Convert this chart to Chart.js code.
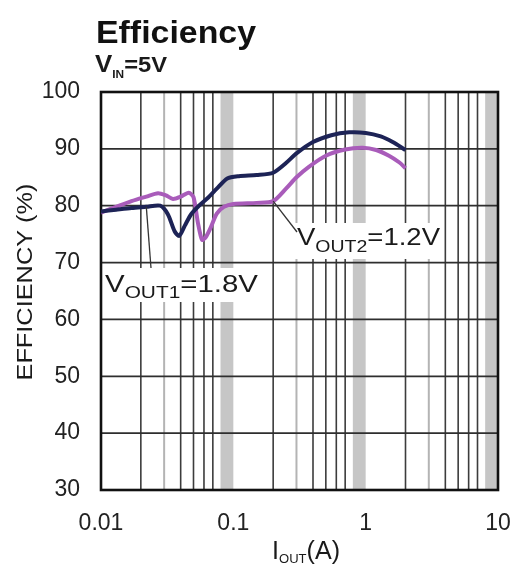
<!DOCTYPE html>
<html><head><meta charset="utf-8">
<script src="https://cdn.jsdelivr.net/npm/chart.js@4.4.1/dist/chart.umd.min.js"></script>
<style>html,body{margin:0;padding:0;background:#fff}</style>
</head><body>
<canvas id="c" width="515" height="567"></canvas>
<script>
// ---- data ----
const currents1 = [0.01,0.013,0.017,0.022,0.028,0.032,0.036,0.039,0.043,0.048,0.055,0.065,0.075,0.09,0.11,0.15,0.2,0.25,0.3,0.4,0.55,0.75,1.0,1.3,1.6,2.0];
const eff1      = [79.0,79.3,79.6,79.8,80.0,78.5,75.5,74.7,76.5,78.5,80.0,81.5,83.0,84.8,85.2,85.4,85.8,87.5,89.2,91.2,92.4,92.9,92.8,92.2,91.2,89.8];
const currents2 = [0.01,0.013,0.017,0.022,0.027,0.031,0.035,0.04,0.046,0.05,0.054,0.058,0.062,0.067,0.075,0.085,0.1,0.15,0.2,0.25,0.3,0.37,0.5,0.7,0.95,1.2,1.5,1.8,2.0];
const eff2      = [78.8,79.8,80.8,81.6,82.2,81.8,81.2,81.6,82.3,81.5,77.0,74.0,74.5,76.0,78.6,79.8,80.3,80.5,80.8,83.0,85.0,86.8,88.8,89.9,90.2,89.8,88.8,87.6,86.6];
const xTickValues = [0.01,0.1,1,10];
const xTickLabels = ['0.01','0.1','1','10'];
const yTickValues = [30,40,50,60,70,80,90,100];
const minorMantissas = [2,3,4,5,6,7];

const FONT = "'Liberation Sans', Arial, Helvetica, sans-serif";

function drawParts(ctx, parts, x, y, targetW, color){
  ctx.save();
  ctx.fillStyle = color || '#1a1a1a';
  ctx.textBaseline = 'alphabetic';
  ctx.textAlign = 'left';
  let w = 0;
  for (const p of parts){ ctx.font = p[1]; w += ctx.measureText(p[0]).width; }
  const sx = targetW ? targetW / w : 1;
  ctx.translate(x, y); ctx.scale(sx, 1);
  let cx = 0;
  for (const p of parts){ ctx.font = p[1]; ctx.fillText(p[0], cx, p[2] || 0); cx += ctx.measureText(p[0]).width; }
  ctx.restore();
}

const gridPlugin = {
  id: 'grid',
  beforeDatasetsDraw(chart){
    const {ctx, chartArea: a, scales: {x, y}} = chart;
    ctx.save();
    ctx.fillStyle = '#c6c6c6';
    for (const d of [0.1, 1, 10]){
      const x0 = x.getPixelForValue(d * 0.8), x1 = x.getPixelForValue(d);
      ctx.fillRect(x0, a.top, x1 - x0, a.bottom - a.top);
    }
    for (const d of [0.01, 0.1, 1]){
      for (const m of minorMantissas){
        const px = x.getPixelForValue(d * m);
        ctx.strokeStyle = m === 3 ? '#b4b4b4' : '#3c3c3c';
        ctx.lineWidth = m === 3 ? 2 : 1.6;
        ctx.beginPath(); ctx.moveTo(px, a.top); ctx.lineTo(px, a.bottom); ctx.stroke();
      }
    }
    ctx.strokeStyle = '#2e2e2e'; ctx.lineWidth = 1.8;
    for (const v of yTickValues){
      const py = y.getPixelForValue(v);
      ctx.beginPath(); ctx.moveTo(a.left, py); ctx.lineTo(a.right, py); ctx.stroke();
    }
    ctx.strokeStyle = '#111'; ctx.lineWidth = 2.6;
    ctx.strokeRect(a.left, a.top, a.right - a.left, a.bottom - a.top);
    ctx.restore();
  },
  afterDatasetsDraw(chart){
    const {ctx, scales: {x, y}} = chart;
    ctx.save();
    ctx.fillStyle = '#fff';
    ctx.fillRect(103, 268, 158, 34);
    ctx.fillRect(295, 223, 148, 36);
    ctx.strokeStyle = '#333'; ctx.lineWidth = 1.3;
    ctx.beginPath();
    ctx.moveTo(x.getPixelForValue(currents1[3]), y.getPixelForValue(eff1[3]));
    ctx.lineTo(151, 268); ctx.stroke();
    ctx.beginPath();
    ctx.moveTo(x.getPixelForValue(currents2[18]), y.getPixelForValue(eff2[18]));
    ctx.lineTo(297, 232); ctx.stroke();
    ctx.restore();
    drawParts(ctx, [['V', '24px ' + FONT], ['OUT1', '17px ' + FONT, 6], ['=1.8V', '24px ' + FONT]], 105, 292, 153);
    drawParts(ctx, [['V', '24px ' + FONT], ['OUT2', '17px ' + FONT, 7], ['=1.2V', '24px ' + FONT]], 297, 245, 143);
  },
  afterDraw(chart){
    const ctx = chart.ctx;
    drawParts(ctx, [['Efficiency', 'bold 31px ' + FONT]], 96, 43, 160, '#111');
    drawParts(ctx, [['V', 'bold 24px ' + FONT], ['IN', 'bold 11px ' + FONT, 6], ['=5V', 'bold 22px ' + FONT]], 95, 72, 72, '#1a1a1a');
    drawParts(ctx, [['I', '25px ' + FONT], ['OUT', '13px ' + FONT, 4], ['(A)', '25px ' + FONT]], 272, 559, 68, '#1a1a1a');
    ctx.save();
    ctx.translate(24 + 8, 282);
    ctx.rotate(-Math.PI / 2);
    ctx.fillStyle = '#1a1a1a';
    ctx.font = '22px ' + FONT;
    ctx.textAlign = 'left'; ctx.textBaseline = 'alphabetic';
    const t = 'EFFICIENCY (%)';
    const w = ctx.measureText(t).width;
    ctx.scale(197 / w, 1);
    ctx.fillText(t, -w / 2, 0);
    ctx.restore();
  }
};

new Chart(document.getElementById('c'), {
  type: 'line',
  data: {
    datasets: [
      { label: 'VOUT1=1.8V', data: currents1.map((v, i) => ({x: v, y: eff1[i]})),
        borderColor: '#1d2356', borderWidth: 4, pointRadius: 0, tension: 0.25, fill: false },
      { label: 'VOUT2=1.2V', data: currents2.map((v, i) => ({x: v, y: eff2[i]})),
        borderColor: '#a95cba', borderWidth: 4, pointRadius: 0, tension: 0.25, fill: false }
    ]
  },
  options: {
    responsive: false, animation: false,
    layout: { padding: { top: 92, right: 17, bottom: 0, left: 0 } },
    plugins: { legend: { display: false }, tooltip: { enabled: false }, title: { display: false } },
    scales: {
      x: {
        type: 'logarithmic', min: 0.01, max: 10,
        afterBuildTicks: s => { s.ticks = xTickValues.map(v => ({value: v})); },
        afterFit: s => { s.height = 77; s.paddingRight = 0; s.paddingLeft = 0; },
        grid: { display: false }, border: { display: false },
        ticks: { callback: (v, i) => xTickLabels[i], font: { size: 23, family: FONT }, color: '#222', padding: 12, maxRotation: 0, autoSkip: false }
      },
      y: {
        min: 30, max: 100,
        afterBuildTicks: s => { s.ticks = yTickValues.map(v => ({value: v})); },
        afterFit: s => { s.width = 101; s.paddingTop = 0; s.paddingBottom = 0; },
        grid: { display: false }, border: { display: false },
        ticks: { font: { size: 23, family: FONT }, color: '#222', padding: 13 }
      }
    }
  },
  plugins: [gridPlugin]
});
</script>
</body></html>
